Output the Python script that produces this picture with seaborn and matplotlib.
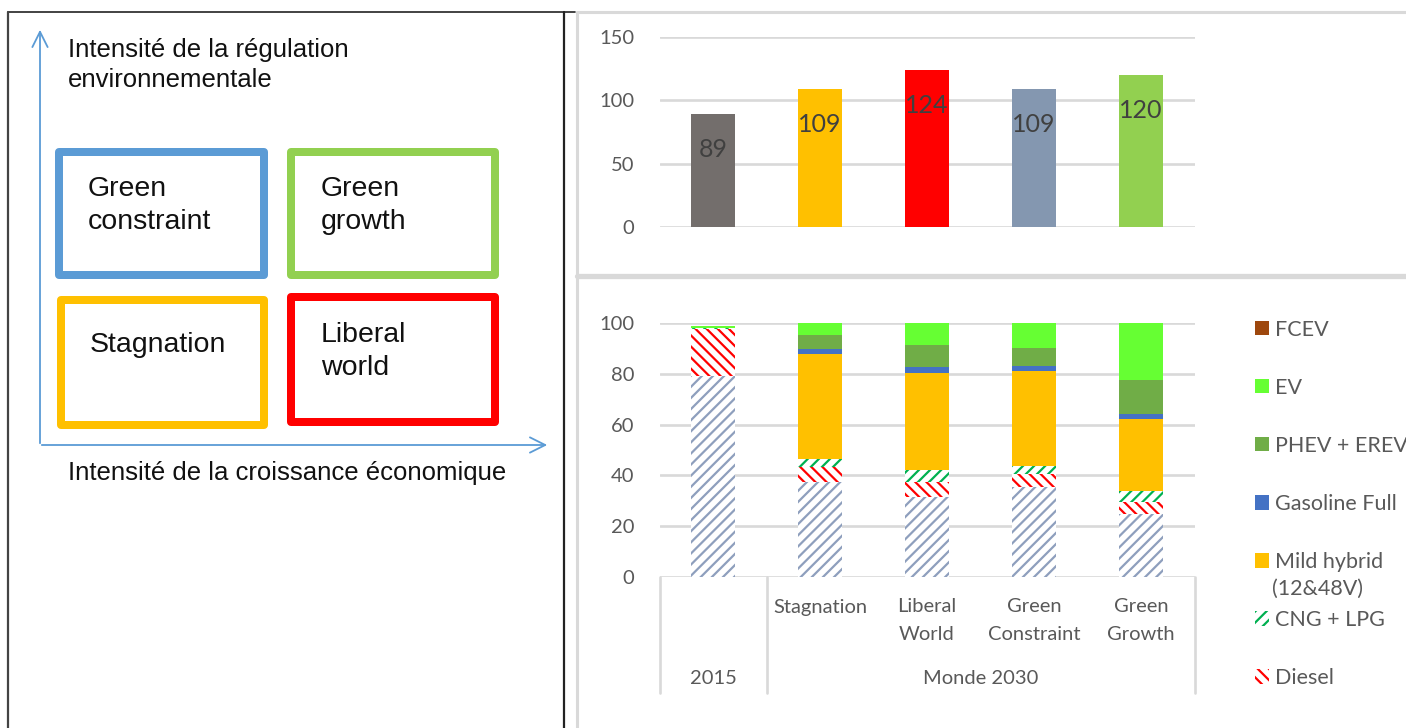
import numpy as np
import pandas as pd
import seaborn as sns
import matplotlib.pyplot as plt
from matplotlib.patches import Rectangle, Patch

# %% data
scenarios = ['2015', 'Stagnation', 'Liberal World', 'Green Constraint', 'Green Growth']
totals = [89, 109, 124, 109, 120]
total_colors = ['#736E6C', '#FFC000', '#FF0000', '#8497B0', '#92D050']

# powertrain mix (%), bottom to top of each stack
gasoline = [79.0, 37.5, 31.6, 35.3, 24.7]
diesel = [18.5, 5.7, 5.9, 5.2, 4.9]
cng_lpg = [0.5, 3.2, 4.6, 3.3, 4.2]
mild_hybrid = [0.0, 41.4, 38.4, 37.3, 28.6]
gasoline_full = [0.0, 2.1, 2.1, 1.8, 1.9]
phev_erev = [0.0, 5.2, 8.6, 7.2, 13.1]
ev = [0.7, 4.9, 8.8, 9.9, 22.6]
fcev = [0.0, 0.0, 0.0, 0.0, 0.0]

cat_labels = ['', 'Stagnation', 'Liberal\nWorld', 'Green\nConstraint', 'Green\nGrowth']
group_labels = ['2015', 'Monde 2030']

segs = [
    ('Gasoline', gasoline, '#8E9FBD', '///'),
    ('Diesel', diesel, '#FF0000', '\\\\\\'),
    ('CNG + LPG', cng_lpg, '#00B050', '///'),
    ('Mild hybrid', mild_hybrid, '#FFC000', None),
    ('Gasoline Full', gasoline_full, '#4472C4', None),
    ('PHEV + EREV', phev_erev, '#70AD47', None),
    ('EV', ev, '#66FF33', None),
    ('FCEV', fcev, '#9E480E', None),
]

# %% style
sns.set_style('white')
plt.rcParams['font.family'] = ['Lato', 'DejaVu Sans']
plt.rcParams['hatch.linewidth'] = 1.6
grey_txt = '#595959'
grid_col = '#D9D9D9'

W, H = 1406, 728
fig = plt.figure(figsize=(W / 100, H / 100), dpi=100)

# background layer in pixel coords: frames + scenario diagram
bg = fig.add_axes([0, 0, 1, 1], zorder=0)
bg.set_xlim(0, W)
bg.set_ylim(H, 0)
bg.axis('off')

bg.plot([8, 575], [12, 12], color='#222222', lw=1.2)
bg.plot([8, 8], [12, H], color='#444444', lw=1.6)
bg.plot([564, 564], [12, H], color='#222222', lw=1.6)
bg.plot([577, 577], [12, H], color=grid_col, lw=2.2)
bg.plot([577, W], [12, 12], color=grid_col, lw=2.2)
bg.plot([577, W], [276, 276], color=grid_col, lw=3.8)

arrow_col = '#5B9BD5'
bg.annotate('', xy=(40, 27), xytext=(40, 446),
            arrowprops=dict(arrowstyle='->,head_length=1.1,head_width=0.55', color=arrow_col, lw=1.3))
bg.annotate('', xy=(550, 445), xytext=(39, 445),
            arrowprops=dict(arrowstyle='->,head_length=1.1,head_width=0.55', color=arrow_col, lw=1.3))

boxes = [
    ((55, 148, 268, 279), '#5B9BD5', ['Green', 'constraint'], (88, 196)),
    ((287, 148, 499, 279), '#92D050', ['Green', 'growth'], (321, 196)),
    ((57, 296, 268, 429), '#FFC000', ['Stagnation'], (90, 352)),
    ((287, 293, 499, 426), '#FF0000', ['Liberal', 'world'], (321, 342)),
]
bw = 8
for (x0, y0, x1, y1), col, lines, (tx, ty) in boxes:
    bg.add_patch(Rectangle((x0 + bw / 2, y0 + bw / 2), x1 - x0 - bw, y1 - y0 - bw,
                           fill=False, edgecolor=col, lw=bw * 0.72, joinstyle='round'))
    for i, line in enumerate(lines):
        bg.text(tx, ty + i * 33, line, fontsize=20.5, family='Liberation Sans',
                color='#111111', va='baseline')

for i, line in enumerate(['Intensité de la régulation', 'environnementale']):
    bg.text(68, 57 + i * 30, line, fontsize=18.5, family='Liberation Sans', color='#111111', va='baseline')
bg.text(68, 480, 'Intensité de la croissance économique', fontsize=18.5,
        family='Liberation Sans', color='#111111', va='baseline')

# %% top chart: total sales by scenario
ax1 = fig.add_axes([659.5 / W, 1 - 227 / H, 535 / W, 190 / H], zorder=1)
ax1.set_facecolor('none')
top = pd.DataFrame({'scenario': scenarios, 'total': totals})
sns.barplot(data=top, x='scenario', y='total', hue='scenario', palette=total_colors,
            width=0.42, saturation=1, legend=False, errorbar=None, linewidth=0, ax=ax1)
for cont in ax1.containers:
    ax1.bar_label(cont, padding=-34, fontsize=18, color='#404040')

# %% bottom chart: powertrain mix
ax2 = fig.add_axes([659.5 / W, 1 - 577 / H, 535 / W, 254 / H], zorder=1)
ax2.set_facecolor('none')
mix = pd.DataFrame({name: vals for name, vals, _, _ in segs}, index=scenarios)
cum = mix.cumsum(axis=1)
for name, _, color, hatch in reversed(segs):
    if hatch:
        sns.barplot(x=scenarios, y=cum[name].values, color='white', edgecolor=color, hatch=hatch,
                    linewidth=0, width=0.42, saturation=1, errorbar=None, ax=ax2)
    else:
        sns.barplot(x=scenarios, y=cum[name].values, color=color, linewidth=0,
                    width=0.42, saturation=1, errorbar=None, ax=ax2)

for ax, ylim, ticks in [(ax1, 150, [0, 50, 100, 150]), (ax2, 100, [0, 20, 40, 60, 80, 100])]:
    ax.set_xlim(-0.5, 4.5)
    ax.set_ylim(0, ylim)
    ax.set_yticks(ticks)
    ax.set_xticks([])
    ax.set_xlabel('')
    ax.set_ylabel('')
    ax.yaxis.grid(True, color=grid_col, lw=1.9)
    ax.set_axisbelow(True)
    sns.despine(ax=ax, left=True, bottom=True)
    ax.tick_params(axis='y', length=0, pad=18, labelsize=14.5, labelcolor=grey_txt)

# category table under the bottom chart
tr = ax2.get_xaxis_transform()
y_bot = (577 - 693) / 254
for xv in [-0.5, 0.5, 4.5]:
    ax2.plot([xv, xv], [0, y_bot], transform=tr, color=grid_col, lw=1.9, clip_on=False)
for i, lab in enumerate(cat_labels):
    for j, line in enumerate(lab.split('\n')):
        ax2.text(i, (577 - 607 - 27 * j) / 254, line, transform=tr, ha='center', va='center',
                 fontsize=14.5, color=grey_txt)
ax2.text(0, (577 - 679) / 254, group_labels[0], transform=tr, ha='center', va='center',
         fontsize=14.5, color=grey_txt)
ax2.text(2.5, (577 - 679) / 254, group_labels[1], transform=tr, ha='center', va='center',
         fontsize=14.5, color=grey_txt)

# legend (top entry first); the gasoline entry falls off the page in the source
handles, labels = [], []
for name, _, color, hatch in reversed(segs[1:]):
    if hatch:
        handles.append(Patch(facecolor='white', edgecolor=color, hatch=hatch, lw=0))
    else:
        handles.append(Patch(facecolor=color, edgecolor='none'))
    labels.append(name)
fig.legend(handles, labels, loc='upper left', bbox_to_anchor=(1246 / W, 1 - 311 / H),
           frameon=False, fontsize=15.5, labelcolor=grey_txt, handlelength=0.65,
           handleheight=0.65, handletextpad=0.3, labelspacing=1.77, borderaxespad=0)
fig.text(1272 / W, 1 - 589 / H, '(12&48V)', fontsize=15.5, color=grey_txt, va='center')

plt.savefig('out.png', dpi=100)
